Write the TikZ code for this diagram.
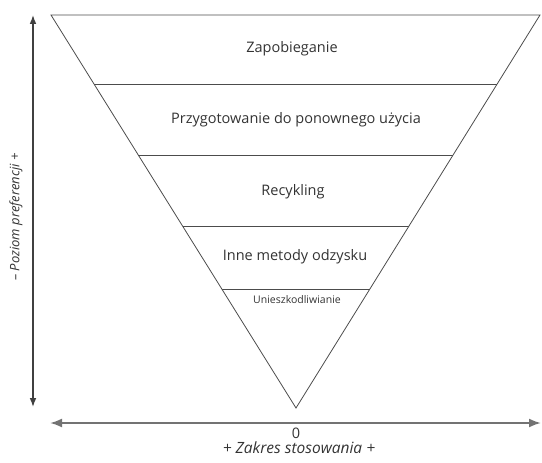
\documentclass[tikz,border=0pt]{standalone}
\usepackage{fontspec}
\setmainfont{Open Sans}
\usetikzlibrary{positioning,arrows.meta,calc}

\begin{document}
\begin{tikzpicture}[
    x=1pt, y=-1pt,
    >=Latex,
    every node/.style={font=\fontsize{14.5}{16}\selectfont, align=center, text=black!80},
    level/.style={draw=black!70, line width=0.8pt},
    axis/.style={<->, line width=1.3pt, draw=black!75},
    small/.style={font=\fontsize{10.5}{12}\selectfont},
    axislabel/.style={font=\fontsize{15.5}{17}\selectfont\itshape}
]
\useasboundingbox (0,0) rectangle (542,463);

\coordinate (tl) at (51,15);
\coordinate (tr) at (540,15);
\coordinate (apex) at (296,408);

% odwrocona piramida
\draw[level] (tl) -- (tr) -- (apex) -- cycle;
\foreach \y/\n in {84/a,155/b,226/c,289/d} {
  \coordinate (l\n) at ($(tl)!{(\y-15)/393}!(apex)$);
  \coordinate (r\n) at ($(tr)!{(\y-15)/393}!(apex)$);
  \draw[level] (l\n) -- (r\n);
}

\node (zap) at (292,49) {Zapobieganie};
\node (przyg) at (296,120) {Przygotowanie do ponownego użycia};
\node (recyk) at (293,192) {Recykling};
\node (inne) at (295,257) {Inne metody odzysku};
\node[small] (unieszk) at (297,300) {Unieszkodliwianie};

% osie
\coordinate (vtop) at (33,15);
\coordinate (vbot) at (33,407);
\coordinate (hleft) at (50,423);
\coordinate (hright) at (541,423);
\draw[axis] (vbot) -- (vtop);
\draw[axis, draw=black!55, line width=2pt] (hleft) -- (hright);

\node (zero) at (296,433) {0};
\node[axislabel] (zakres) at (299,448) {+ Zakres stosowania +};
\node[axislabel, font=\fontsize{13}{15}\selectfont\itshape, rotate=90] (poziom) at (16,217) {– Poziom preferencji +};
\end{tikzpicture}
\end{document}
